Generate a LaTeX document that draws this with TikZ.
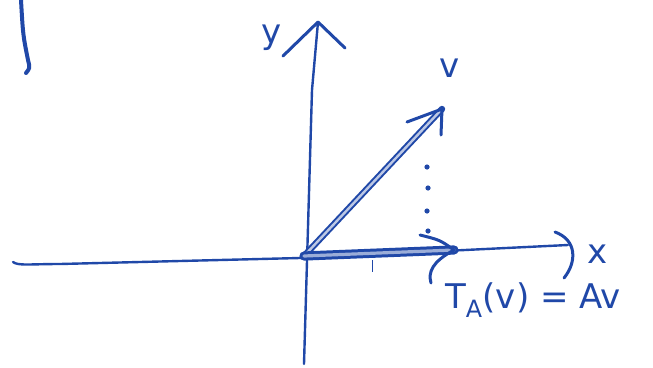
\documentclass[tikz,border=0pt]{standalone}
\usepackage{fontspec}
\setmainfont{DejaVu Sans}
\begin{document}
\begin{tikzpicture}[x=1pt,y=-1pt,
  ink/.style={draw=pen,line width=3pt,line cap=round,line join=round},
  thin ink/.style={draw=pen,line width=2.4pt,line cap=round,line join=round},
  vec/.style={draw=pen,line width=2pt,double=pen!30,double distance=2.4pt,line cap=round},
  lbl/.style={text=pen,font=\fontsize{34}{36}\selectfont,inner sep=0pt}]
\definecolor{pen}{RGB}{32,72,168}
\useasboundingbox (0,0) rectangle (653,367);
% coordinates
\coordinate (O) at (304,256);
\coordinate (xl) at (13,262);
\coordinate (xr) at (568,245);
\coordinate (yb) at (304,364);
\coordinate (yt) at (318,22);
\coordinate (vt) at (442,109);
\coordinate (tt) at (454,250);
% stray mark
\draw[ink,line width=4pt] (21,0) .. controls (23,35) .. (28,60) .. controls (30,68) .. (26,73);
% axes
\draw[thin ink] (xl) .. controls (18,266) and (30,264) .. (60,264) -- (300,258) -- (xr);
\draw[thin ink] (yb) -- (312,90) -- (yt);
% axis arrow tips
\draw[ink] (283,56) -- (yt) -- (345,48);
\draw[ink] (555,232) .. controls (577,240) and (577,262) .. (564,278);
% tick
\draw[draw=pen,line width=0.9pt] (372,260) -- (372,272);
% vectors
\draw[vec] (O) -- (vt);
\draw[ink] (407,122) -- (vt) -- (441,135);
\draw[vec,line width=3pt,double=pen!45,double distance=3.2pt] (O) -- (tt);
\draw[ink] (420,235) .. controls (440,240) .. (tt) .. controls (432,262) and (428,272) .. (431,283);
% dotted projection
\foreach \p in {(427,167),(428,188),(427,211),(428,231)}
  \fill[pen] \p circle (2.6);
% labels
\node[lbl] (ylab) at (272,38) {y};
\node[lbl] (vlab) at (450,68) {v};
\node[lbl] (xlab) at (598,254) {x};
\node[lbl] (tlab) at (533,300) {T\textsubscript{A}(v) = Av};
\end{tikzpicture}
\end{document}
